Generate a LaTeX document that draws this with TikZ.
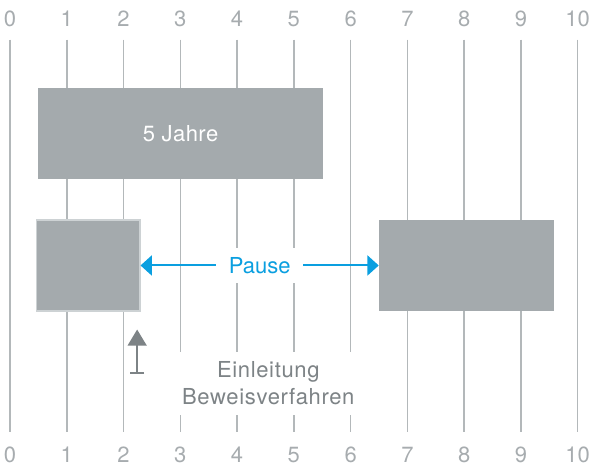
\documentclass[tikz,border=0pt]{standalone}
\usepackage{fontspec}
\setmainfont{TeX Gyre Heros}
\usetikzlibrary{arrows.meta,fit}
\definecolor{gridgray}{HTML}{B3B8BA}
\definecolor{labelgray}{HTML}{A7ACAF}
\definecolor{boxgray}{HTML}{A4AAAD}
\definecolor{edgegray}{HTML}{CDD2D4}
\definecolor{textgray}{HTML}{7D8386}
\definecolor{pauseblue}{HTML}{0A9FE0}

\begin{document}
\begin{tikzpicture}
                [x=42.58pt, y=-0.75pt,
                year/.style={text=labelgray, font=\fontsize{16.5}{19}\selectfont, inner sep=0pt},
                gridline/.style={draw=gridgray, line width=1.1pt, shorten <=15.75pt, shorten >=17.25pt},
                phase/.style={fill=boxgray, inner sep=0pt},
                phasetext/.style={text=white, font=\fontsize{16.5}{20}\selectfont\addfontfeatures{LetterSpace=2}},
                pauselabel/.style={fill=white, text=pauseblue, font=\fontsize{16.5}{20}\selectfont, inner xsep=9.4pt, minimum height=26pt},
                pausearrow/.style={{Triangle[width=15pt,length=8.5pt]}-{Triangle[width=15pt,length=8.5pt]}, draw=pauseblue, line width=1.5pt},
                note/.style={fill=white, text=textgray, align=center, font=\fontsize{16.5}{20.25}\selectfont\addfontfeatures{LetterSpace=3}, inner xsep=2pt, minimum height=47pt},
                markarrow/.style={{Bar[width=10.5pt]}-{Triangle[width=14pt,length=12pt]}, draw=textgray, line width=1.5pt, shorten >=13.5pt},]

                \useasboundingbox (-0.1762,0) rectangle (10.2167,466);

                \node[year] (t0) at (0,18.7) {0};
                \node[year] (t1) at (1,18.7) {1};
                \node[year] (t2) at (2,18.7) {2};
                \node[year] (t3) at (3,18.7) {3};
                \node[year] (t4) at (4,18.7) {4};
                \node[year] (t5) at (5,18.7) {5};
                \node[year] (t6) at (6,18.7) {6};
                \node[year] (t7) at (7,18.7) {7};
                \node[year] (t8) at (8,18.7) {8};
                \node[year] (t9) at (9,18.7) {9};
                \node[year] (t10) at (10,18.7) {10};

                \node[year] (b0) at (0,455) {0};
                \node[year] (b1) at (1,455) {1};
                \node[year] (b2) at (2,455) {2};
                \node[year] (b3) at (3,455) {3};
                \node[year] (b4) at (4,455) {4};
                \node[year] (b5) at (5,455) {5};
                \node[year] (b6) at (6,455) {6};
                \node[year] (b7) at (7,455) {7};
                \node[year] (b8) at (8,455) {8};
                \node[year] (b9) at (9,455) {9};
                \node[year] (b10) at (10,455) {10};

                \draw[gridline] (t0.center) -- (b0.center);
                \draw[gridline] (t1.center) -- (b1.center);
                \draw[gridline] (t2.center) -- (b2.center);
                \draw[gridline] (t3.center) -- (b3.center);
                \draw[gridline] (t4.center) -- (b4.center);
                \draw[gridline] (t5.center) -- (b5.center);
                \draw[gridline] (t6.center) -- (b6.center);
                \draw[gridline] (t7.center) -- (b7.center);
                \draw[gridline] (t8.center) -- (b8.center);
                \draw[gridline] (t9.center) -- (b9.center);
                \draw[gridline] (t10.center) -- (b10.center);

                \node[phase, fit={(0.5,88) (5.51,179)}] (jahre) {};
                \node[phasetext] (jahretext) at (jahre.center) {5 Jahre};
                \node[phase, draw=edgegray, line width=0.8pt, fit={(0.46,220) (2.29,311)}] (start) {};
                \node[phase, fit={(6.5,220) (9.58,311)}] (ende) {};

                \draw[pausearrow] (start) -- node[pauselabel] (pause) {Pause} (ende);

                \node[note] (einleitung) at (4.55,383.5) {Einleitung\\Beweisverfahren};

                \coordinate (fuss) at (2.24,374);
                \draw[markarrow] (fuss) -- (fuss |- start.south);

            \end{tikzpicture}
\end{document}
